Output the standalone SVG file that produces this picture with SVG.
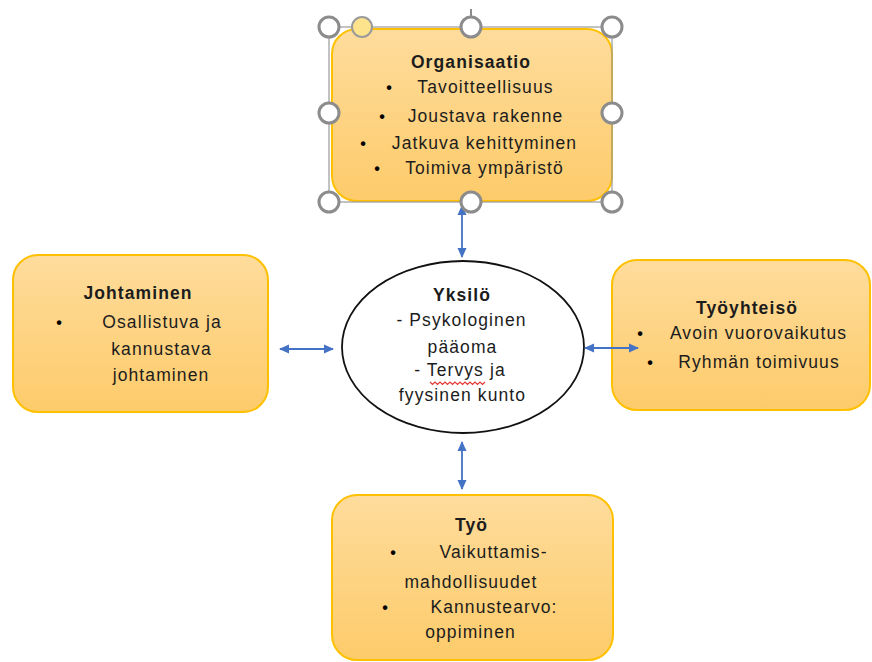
<svg xmlns="http://www.w3.org/2000/svg" width="872" height="662" viewBox="0 0 872 662">
  <defs>
    <linearGradient id="gold" x1="0" y1="0" x2="0" y2="1">
      <stop offset="0" stop-color="#FEDC9C"/>
      <stop offset="1" stop-color="#FDCB6A"/>
    </linearGradient>
    <marker id="ah" viewBox="0 0 10 10" refX="9" refY="5" markerWidth="10" markerHeight="10" markerUnits="userSpaceOnUse" orient="auto-start-reverse">
      <path d="M0,0.5 L10,5 L0,9.5 Z" fill="#4472C4"/>
    </marker>
  </defs>
  <style>
    .box { fill: url(#gold); stroke: #FFC000; stroke-width: 2; }
    .t { font-family: "Liberation Sans", Arial, sans-serif; font-size: 17.5px; fill: #1c1c1c; letter-spacing: 1.1px; text-anchor: middle; }
    .b { font-weight: bold; }
    .bul { font-family: "Liberation Sans", Arial, sans-serif; font-size: 16px; font-weight: bold; fill: #000; text-anchor: middle; }
    .con { stroke: #4472C4; stroke-width: 1.8; fill: none; marker-start: url(#ah); marker-end: url(#ah); }
    .h { fill: #fff; stroke: #8c8c8c; stroke-width: 3; }
  </style>

  <g id="organisaatio">
    <rect class="box" x="332" y="29" width="280" height="172" rx="25"/>
    <text class="t b" x="471" y="68">Organisaatio</text>
    <text class="bul" x="389" y="93">•</text>
    <text class="t" x="485.5" y="93">Tavoitteellisuus</text>
    <text class="bul" x="382" y="122">•</text>
    <text class="t" x="485.5" y="122">Joustava rakenne</text>
    <text class="bul" x="363" y="149">•</text>
    <text class="t" x="484.5" y="149">Jatkuva kehittyminen</text>
    <text class="bul" x="377" y="174">•</text>
    <text class="t" x="484.5" y="174">Toimiva ympäristö</text>
  </g>

  <g id="johtaminen">
    <rect class="box" x="13" y="255" width="255" height="157" rx="25"/>
    <text class="t b" x="138" y="299">Johtaminen</text>
    <text class="bul" x="59" y="328">•</text>
    <text class="t" x="162" y="328">Osallistuva ja</text>
    <text class="t" x="161.5" y="355">kannustava</text>
    <text class="t" x="161" y="381">johtaminen</text>
  </g>

  <g id="yksilo">
    <ellipse cx="463" cy="347" rx="121" ry="86" fill="#fff" stroke="#111" stroke-width="1.8"/>
    <text class="t b" x="462" y="301">Yksilö</text>
    <text class="t" x="461.5" y="326">- Psykologinen</text>
    <text class="t" x="462.5" y="353">pääoma</text>
    <text class="t" x="460" y="376">- Tervys ja</text>
    <path d="M430,382 l2.5,2.5 l2.5,-2.5 l2.5,2.5 l2.5,-2.5 l2.5,2.5 l2.5,-2.5 l2.5,2.5 l2.5,-2.5 l2.5,2.5 l2.5,-2.5 l2.5,2.5 l2.5,-2.5 l2.5,2.5 l2.5,-2.5 l2.5,2.5 l2.5,-2.5 l2.5,2.5 l2.5,-2.5 l2.5,2.5 l2.5,-2.5 l2.5,2.5 l2.5,-2.5" fill="none" stroke="#e53935" stroke-width="1.2"/>
    <text class="t" x="462.5" y="401">fyysinen kunto</text>
  </g>

  <g id="tyoyhteiso">
    <rect class="box" x="612" y="260" width="258" height="150" rx="25"/>
    <text class="t b" x="747" y="314">Työyhteisö</text>
    <text class="bul" x="640" y="339">•</text>
    <text class="t" x="758.5" y="339">Avoin vuorovaikutus</text>
    <text class="bul" x="650" y="368">•</text>
    <text class="t" x="759" y="368">Ryhmän toimivuus</text>
  </g>

  <g id="tyo">
    <rect class="box" x="332" y="495" width="281" height="165" rx="25"/>
    <text class="t b" x="471.5" y="531">Työ</text>
    <text class="bul" x="393" y="558">•</text>
    <text class="t" x="493.5" y="558">Vaikuttamis-</text>
    <text class="t" x="471" y="588">mahdollisuudet</text>
    <text class="bul" x="385" y="613">•</text>
    <text class="t" x="494" y="613">Kannustearvo:</text>
    <text class="t" x="470.5" y="638">oppiminen</text>
  </g>

  <g id="connectors">
    <line class="con" x1="462" y1="206" x2="462" y2="257"/>
    <line class="con" x1="280" y1="349" x2="333" y2="349"/>
    <line class="con" x1="585" y1="348" x2="638" y2="348"/>
    <line class="con" x1="462" y1="442" x2="462" y2="489"/>
  </g>

  <g id="selection">
    <line x1="471" y1="9" x2="471" y2="17" stroke="#8c8c8c" stroke-width="2"/>
    <rect x="329" y="27" width="283" height="175" fill="none" stroke="#9a9a9a" stroke-width="1.2"/>
    <circle class="h" cx="329" cy="27" r="10"/>
    <circle cx="362" cy="27" r="10" fill="#FDE38C" stroke="#9a9a9a" stroke-width="2"/>
    <circle class="h" cx="471" cy="27" r="10"/>
    <circle class="h" cx="612" cy="27" r="10"/>
    <circle class="h" cx="329" cy="113" r="10"/>
    <circle class="h" cx="612" cy="113" r="10"/>
    <circle class="h" cx="329" cy="202" r="10"/>
    <circle class="h" cx="471" cy="202" r="10"/>
    <circle class="h" cx="612" cy="202" r="10"/>
  </g>
</svg>
